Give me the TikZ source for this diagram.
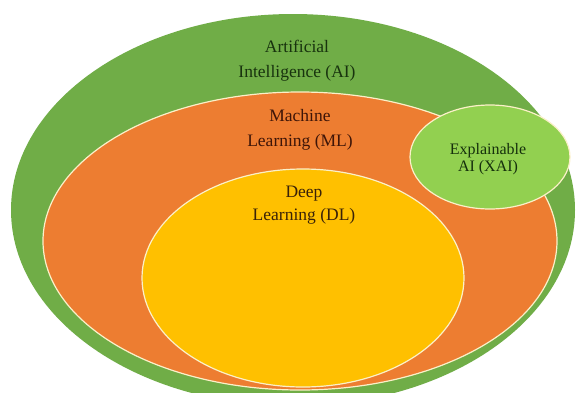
\documentclass[tikz,border=0pt]{standalone}
\usepackage{fontspec}
\setmainfont{Liberation Serif}
\definecolor{aigreen}{HTML}{70AD47}
\definecolor{mlorange}{HTML}{ED7D31}
\definecolor{dlyellow}{HTML}{FFC000}
\definecolor{xaigreen}{HTML}{92D050}
\definecolor{rim}{HTML}{FBF0C8}
\definecolor{aitext}{HTML}{18330E}
\definecolor{mltext}{HTML}{3E1508}
\definecolor{dltext}{HTML}{3A2208}
\definecolor{xaitext}{HTML}{15300C}
\tikzset{
  rimline/.style={draw=rim, line width=1.2pt},
  lbl/.style={align=center, font=\fontsize{17.5}{25}\selectfont, inner sep=0pt},
  dlbl/.style={align=center, font=\fontsize{17.5}{22.5}\selectfont, inner sep=0pt},
  xlbl/.style={align=center, font=\fontsize{16}{17.5}\selectfont, inner sep=0pt}
}
\begin{document}
\begin{tikzpicture}[x=1pt,y=1pt]
\useasboundingbox (0,0) rectangle (576,-392);
\fill[white] (0,0) rectangle (576,-392);
\clip (0,0) rectangle (576,-392);
% Artificial Intelligence
\fill[aigreen] (293,-210) ellipse [x radius=282, y radius=196];
% Machine Learning
\fill[mlorange, rimline] (300,-241) ellipse [x radius=257, y radius=149];
% Deep Learning
\fill[dlyellow, rimline] (303,-278) ellipse [x radius=161, y radius=109];
% Explainable AI
\fill[xaigreen, rimline] (490,-157) ellipse [x radius=80, y radius=52];
% labels
\node[lbl, text=aitext] (ai) at (297,-61) {Artificial\\Intelligence (AI)};
\node[lbl, text=mltext] (ml) at (300,-130) {Machine\\Learning (ML)};
\node[dlbl, text=dltext] (dl) at (304,-205) {Deep\\Learning (DL)};
\node[xlbl, text=xaitext] (xai) at (488,-159) {Explainable\\AI (XAI)};
\end{tikzpicture}
\end{document}
